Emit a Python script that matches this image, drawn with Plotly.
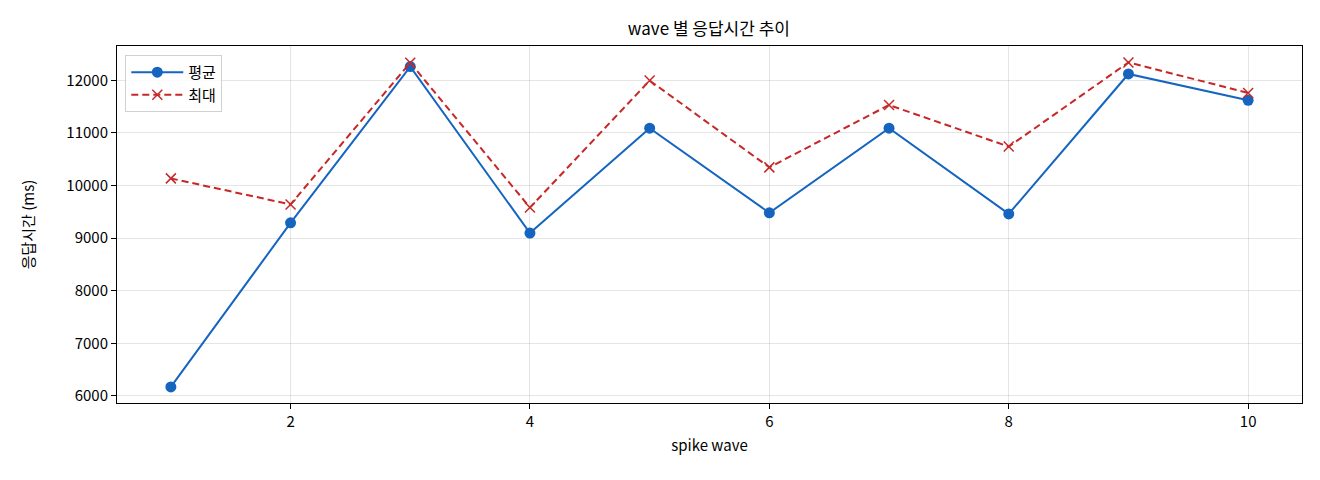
import plotly.graph_objects as go

# wave number 1..10
waves = [1, 2, 3, 4, 5, 6, 7, 8, 9, 10]

# response time (ms)
avg_ms = [6170, 9290, 12260, 9095, 11090, 9480, 11090, 9460, 12120, 11620]
max_ms = [10135, 9640, 12335, 9580, 11995, 10345, 11530, 10740, 12340, 11760]

y_ticks = [6000, 7000, 8000, 9000, 10000, 11000, 12000]
y_labels = ["6000", "7000", "8000", "9000", "10000", "11000", "12000"]
x_ticks = [2, 4, 6, 8, 10]

FONT = "Noto Sans CJK KR"
BLUE = "#1565C0"
RED = "#C62828"


def make_fig():
    fig = go.Figure()

    fig.add_trace(go.Scatter(
        x=waves, y=avg_ms, mode="lines+markers", name="평균",
        line=dict(color=BLUE, width=2),
        marker=dict(symbol="circle", size=11, color=BLUE),
    ))
    fig.add_trace(go.Scatter(
        x=waves, y=max_ms, mode="lines+markers", name="최대",
        line=dict(color=RED, width=2, dash="7px,4px"),
        marker=dict(symbol="x-thin-open", size=10, color=RED,
                    line=dict(color=RED, width=1.5)),
    ))

    axis_common = dict(
        showline=True, linecolor="black", linewidth=1, mirror=True,
        ticks="outside", ticklen=5, tickcolor="black", tickwidth=1,
        showgrid=True, gridcolor="rgba(0,0,0,0.1)", gridwidth=1,
        zeroline=False,
        tickfont=dict(family=FONT, size=15, color="black"),
    )

    # page body has an 8px default margin, so margins are shifted by that
    fig.update_layout(
        width=1320, height=480,
        margin=dict(l=109, r=26, t=38, b=85),
        paper_bgcolor="white", plot_bgcolor="white",
        font=dict(family=FONT, color="black"),
        title=dict(text="wave 별 응답시간 추이", x=0.531, xanchor="center",
                   y=0.956, yanchor="middle",
                   font=dict(family=FONT, size=17, color="black")),
        showlegend=True,
        legend=dict(x=0.007, y=0.975, xanchor="left", yanchor="top",
                    bgcolor="rgba(255,255,255,0.8)", bordercolor="#d0d0d0",
                    borderwidth=1, font=dict(family=FONT, size=15),
                    itemwidth=52),
        xaxis=dict(axis_common, range=[0.55, 10.45], tickvals=x_ticks,
                   title=dict(text="spike wave", standoff=10,
                              font=dict(family=FONT, size=15))),
        yaxis=dict(axis_common, range=[5865, 12652], tickvals=y_ticks,
                   ticktext=y_labels,
                   title=dict(text="응답시간 (ms)", standoff=28,
                              font=dict(family=FONT, size=15))),
    )
    return fig


if __name__ == "__main__":
    fig = make_fig()
    fig.write_html("out.html")
